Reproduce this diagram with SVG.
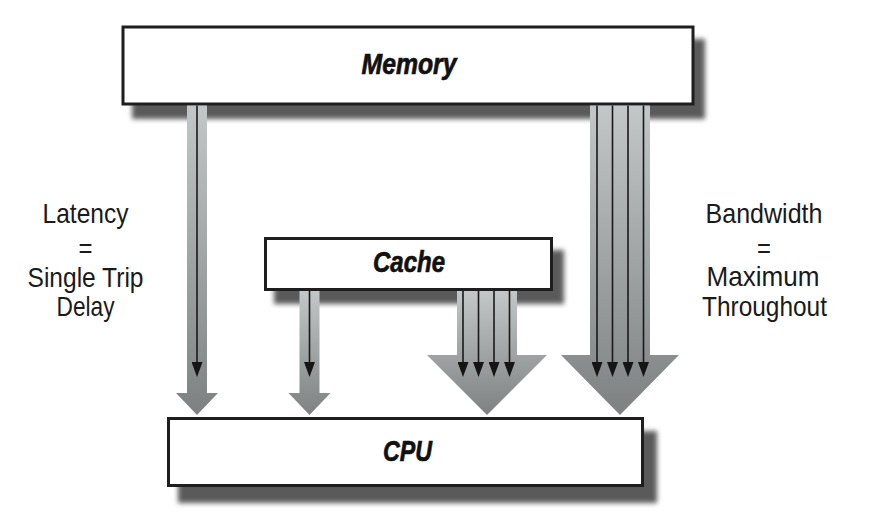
<svg xmlns="http://www.w3.org/2000/svg" width="887" height="517" viewBox="0 0 887 517">
  <defs>
    <filter id="shadow" x="-10%" y="-30%" width="130%" height="180%">
      <feGaussianBlur stdDeviation="2.5"/>
    </filter>
    <linearGradient id="arrowFill" x1="0" y1="0" x2="0" y2="1">
      <stop offset="0" stop-color="#c4c7c7"/>
      <stop offset="1" stop-color="#7e8181"/>
    </linearGradient>
    <marker id="tip" viewBox="0 0 15 11" refX="8" refY="5.5" markerWidth="15" markerHeight="11" markerUnits="userSpaceOnUse" orient="auto">
      <path d="M0,0 L15,5.5 L0,11 z" fill="#151515"/>
    </marker>
    <style>
      .box { fill: #ffffff; stroke: #1e1e1e; stroke-width: 3; }
      .shadow { fill: #4a4a4a; opacity: 0.9; filter: url(#shadow); }
      .big { fill: url(#arrowFill); }
      .wire { stroke: #1a1a1a; stroke-width: 1.6; fill: none; marker-end: url(#tip); }
      .node { font-family: "Liberation Sans", Arial, sans-serif; font-weight: bold; font-style: italic; font-size: 30px; fill: #111; stroke: #111; stroke-width: 0.7; text-anchor: middle; }
      .label { font-family: "Liberation Sans", Arial, sans-serif; font-size: 28px; fill: #1a1a1a; text-anchor: middle; }
    </style>
  </defs>
  <rect width="887" height="517" fill="#ffffff"/>

  <g id="memory">
    <rect class="shadow" x="132" y="39" width="573" height="80"/>
    <rect class="box" x="123" y="27" width="570" height="77"/>
    <text class="node" x="409" y="74" textLength="95" lengthAdjust="spacingAndGlyphs">Memory</text>
  </g>

  <g id="cache">
    <rect class="shadow" x="274" y="250" width="290" height="54"/>
    <rect class="box" x="265.5" y="238.5" width="286" height="51"/>
    <text class="node" x="409" y="272" textLength="72" lengthAdjust="spacingAndGlyphs">Cache</text>
  </g>

  <g id="cpu">
    <rect class="shadow" x="178" y="431" width="479" height="72"/>
    <rect class="box" x="168.5" y="418.5" width="474" height="67"/>
    <text class="node" x="407.5" y="461" textLength="49" lengthAdjust="spacingAndGlyphs">CPU</text>
  </g>

  <g id="connectors">
    <!-- Memory latency arrow -->
    <polygon class="big" points="187,105.5 207,105.5 207,393 218,393 197,415 176,393 187,393"/>
    <line class="wire" x1="197" y1="105.5" x2="197" y2="370"/>
    <!-- Cache latency arrow -->
    <polygon class="big" points="299.5,291 319.5,291 319.5,393 330.5,393 309.5,415 288.5,393 299.5,393"/>
    <line class="wire" x1="309.5" y1="291" x2="309.5" y2="370"/>
    <!-- Cache bandwidth arrow -->
    <polygon class="big" points="457,291 517,291 517,355 547,355 487,415 427,355 457,355"/>
    <line class="wire" x1="463" y1="291" x2="463" y2="370"/>
    <line class="wire" x1="478.5" y1="291" x2="478.5" y2="370"/>
    <line class="wire" x1="494" y1="291" x2="494" y2="370"/>
    <line class="wire" x1="509.5" y1="291" x2="509.5" y2="370"/>
    <!-- Memory bandwidth arrow -->
    <polygon class="big" points="590,105.5 650,105.5 650,355 679,355 620,415 561,355 590,355"/>
    <line class="wire" x1="597" y1="105.5" x2="597" y2="370"/>
    <line class="wire" x1="612.5" y1="105.5" x2="612.5" y2="370"/>
    <line class="wire" x1="628" y1="105.5" x2="628" y2="370"/>
    <line class="wire" x1="643.5" y1="105.5" x2="643.5" y2="370"/>
  </g>

  <g id="latency-label">
    <text class="label" x="85.5" y="223" textLength="86" lengthAdjust="spacingAndGlyphs">Latency</text>
    <text class="label" x="85.5" y="258" textLength="14" lengthAdjust="spacingAndGlyphs">=</text>
    <text class="label" x="85.5" y="287" textLength="116" lengthAdjust="spacingAndGlyphs">Single Trip</text>
    <text class="label" x="85.5" y="316" textLength="58" lengthAdjust="spacingAndGlyphs">Delay</text>
  </g>

  <g id="bandwidth-label">
    <text class="label" x="764" y="223" textLength="117" lengthAdjust="spacingAndGlyphs">Bandwidth</text>
    <text class="label" x="764" y="258" textLength="14" lengthAdjust="spacingAndGlyphs">=</text>
    <text class="label" x="763" y="286" textLength="113" lengthAdjust="spacingAndGlyphs">Maximum</text>
    <text class="label" x="764.5" y="316" textLength="125" lengthAdjust="spacingAndGlyphs">Throughout</text>
  </g>
</svg>
